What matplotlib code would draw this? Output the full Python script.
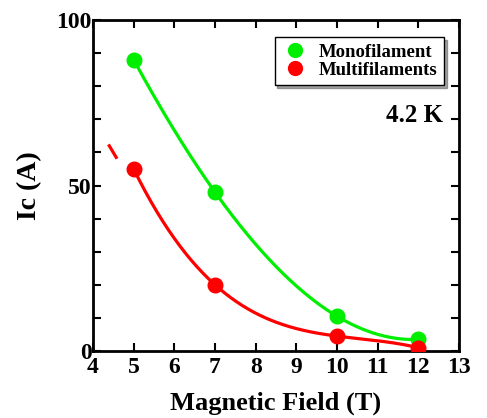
import numpy as np
import matplotlib.pyplot as plt
from matplotlib.ticker import MultipleLocator

plt.rcParams['font.family'] = ['Liberation Serif', 'DejaVu Serif']
plt.rcParams['font.weight'] = 'bold'

# 数据
field = [5, 7, 10, 12]
mono_ic = [88, 48, 10.5, 3.5]
multi_ic = [55, 20, 4.5, 1]
# 红色曲线左端的短线段
tail_field = [4.4, 4.57]
tail_ic = [62, 58.5]

fig = plt.figure(figsize=(4.87, 4.18), dpi=100)
ax = fig.add_axes([93 / 487, 1 - 351 / 418, 366 / 487, 331 / 418])

# 拟合曲线
p_mono = np.polyfit(field, mono_ic, 3)
p_multi = np.polyfit(field, multi_ic, 3)

xs = np.linspace(5, 12, 200)
ax.plot(xs, np.polyval(p_mono, xs), color='#00ee00', lw=2.3, zorder=2)
ax.plot(xs, np.polyval(p_multi, xs), color='#ff0000', lw=2.3, zorder=2)
ax.plot(tail_field, tail_ic, color='#ff0000', lw=2.3, zorder=2)

ax.plot(field, mono_ic, 'o', color='#00ee00', ms=10.5, label='Monofilament', zorder=3)
ax.plot(field, multi_ic, 'o', color='#ff0000', ms=10.5, label='Multifilaments', zorder=3)

ax.set_xlim(4, 13)
ax.set_ylim(0, 100)
ax.xaxis.set_major_locator(MultipleLocator(1))
ax.yaxis.set_major_locator(MultipleLocator(50))
ax.yaxis.set_minor_locator(MultipleLocator(10))
ax.tick_params(which='both', direction='in', top=True, right=True, width=1.5,
               length=6, labelsize=17)
ax.tick_params(axis='x', pad=4)
ax.tick_params(axis='y', pad=1)
for s in ax.spines.values():
    s.set_linewidth(2)

ax.set_xlabel('Magnetic Field (T)', fontsize=19, fontweight='bold', labelpad=10)
ax.set_ylabel('Ic (A)', fontsize=20, fontweight='bold', labelpad=10)

leg = ax.legend(loc='upper right', bbox_to_anchor=(0.959, 0.949), fontsize=13.5,
                frameon=True, fancybox=False, shadow=True, handletextpad=0.5,
                borderpad=0.35, borderaxespad=0, labelspacing=0.05,
                handlelength=1.5, markerscale=0.95)
leg.get_frame().set_edgecolor('black')
leg.get_frame().set_linewidth(1)

ax.text(0.955, 0.71, '4.2 K', transform=ax.transAxes, ha='right', va='center',
        fontsize=18, fontweight='bold')

fig.savefig('out.png', dpi=100)
